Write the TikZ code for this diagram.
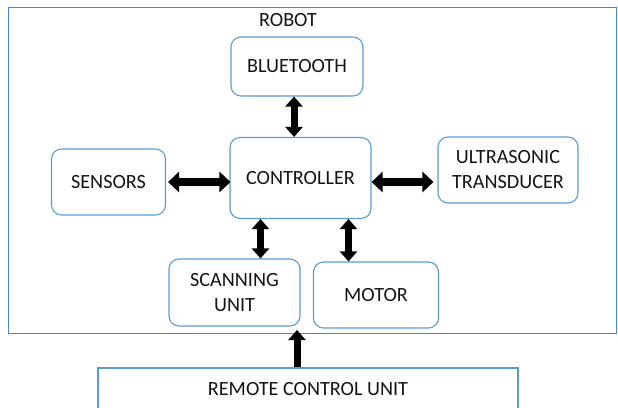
\documentclass[tikz,border=0pt]{standalone}
\usepackage{fontspec}
\setmainfont{Carlito}
\usetikzlibrary{arrows.meta}
\definecolor{boxblue}{HTML}{5B9BD5}
\definecolor{framblue}{HTML}{3D8BD3}
\definecolor{txt}{HTML}{141414}
\begin{document}
\begin{tikzpicture}[x=1pt,y=-1pt,
  font=\fontsize{20.2}{25}\selectfont, text=txt,
  blk/.style={draw=boxblue, line width=1.1pt, rounded corners=10pt,
    align=center, inner sep=0pt},
  dblarrow/.style={line width=7pt,
    {Triangle[length=10pt,width=17pt]}-{Triangle[length=10pt,width=17pt]}},
  widearrow/.style={line width=8pt,
    {Triangle[length=11pt,width=20pt]}-{Triangle[length=11pt,width=20pt]}},
  uparrow/.style={line width=7pt, -{Triangle[length=10pt,width=17pt]}}]
  \useasboundingbox (0,0) rectangle (618,407);
  % robot enclosure
  \draw[framblue, line width=1.1pt] (8.5,7.5) rectangle (616.5,333.5);
  \node (robotlbl) at (288,20) {ROBOT};
  % blocks inside the robot
  \node[blk, minimum width=132pt, minimum height=59pt] (bt) at (297,66.5) {BLUETOOTH};
  \node[blk, minimum width=141pt, minimum height=81pt] (ctrl) at (300.5,178) {CONTROLLER};
  \node[blk, minimum width=114pt, minimum height=66pt] (sen) at (108.5,182) {SENSORS};
  \node[blk, minimum width=140pt, minimum height=66pt] (ultra) at (508,170) {ULTRASONIC\\TRANSDUCER};
  \node[blk, minimum width=131pt, minimum height=67pt] (scan) at (234.5,292.5) {SCANNING\\UNIT};
  \node[blk, minimum width=125pt, minimum height=66pt] (motor) at (376,295) {MOTOR};
  % remote control unit, running off the lower edge
  \node[draw=boxblue, line width=1.1pt, minimum width=420pt, minimum height=44pt,
    inner sep=0pt] (remote) at (308,390) {\raisebox{3pt}{REMOTE CONTROL UNIT}};
  % links
  \draw[dblarrow] ([xshift=-3pt]bt.south) -- ([xshift=-3pt]bt.south |- ctrl.north);
  \draw[widearrow] ([xshift=2pt]sen.east) -- ([xshift=1pt]sen.east -| ctrl.west);
  \draw[widearrow] (ctrl.east |- sen.east) -- ([xshift=-4pt]ultra.west |- sen.east);
  \draw[dblarrow] ([xshift=-40pt]ctrl.south) -- ([xshift=-40pt]ctrl.south |- scan.north);
  \draw[dblarrow] ([xshift=48pt]ctrl.south) -- ([xshift=48pt]ctrl.south |- motor.north);
  \coordinate (rtip) at (297,330);
  \draw[uparrow] (remote.north -| rtip) -- (rtip);
\end{tikzpicture}
\end{document}
